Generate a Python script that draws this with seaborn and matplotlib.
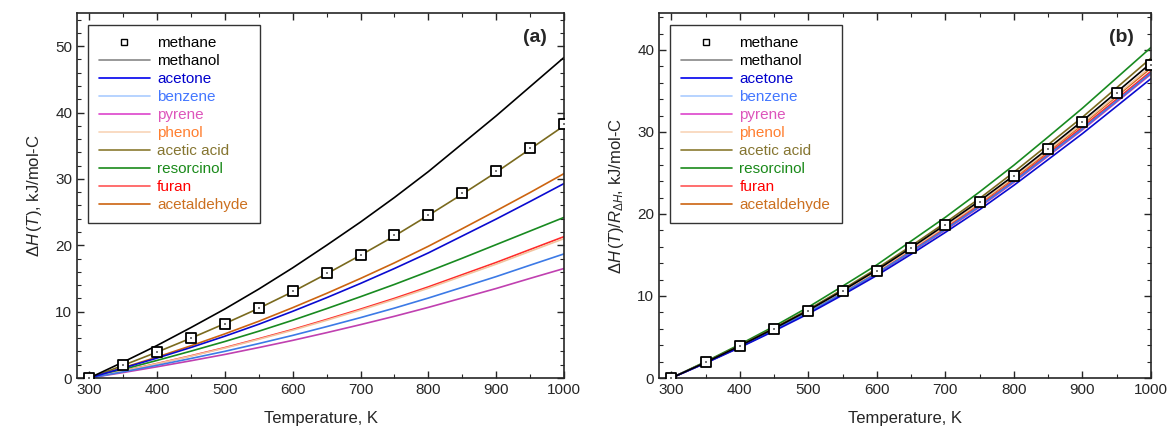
import numpy as np
import pandas as pd
import seaborn as sns
import matplotlib.pyplot as plt
from matplotlib.ticker import MultipleLocator
from matplotlib.lines import Line2D

# Temperature grid, K
temperature = [300, 350, 400, 450, 500, 550, 600, 650, 700, 750, 800, 850, 900, 950, 1000]

# (a) dH(T), kJ/mol-C
a_methane = [0, 1.9, 3.9, 6.0, 8.2, 10.6, 13.1, 15.8, 18.6, 21.5, 24.6, 27.9, 31.2, 34.7, 38.2]
a_methanol = [0, 2.4, 4.9, 7.6, 10.4, 13.4, 16.6, 20.0, 23.5, 27.2, 31.1, 35.3, 39.5, 43.9, 48.3]
a_acetone = [0, 1.5, 3.0, 4.6, 6.3, 8.1, 10.05, 12.1, 14.25, 16.5, 18.85, 21.4, 23.95, 26.6, 29.3]
a_benzene = [0, 0.93, 1.91, 2.94, 4.02, 5.19, 6.42, 7.74, 9.1, 10.53, 12.05, 13.66, 15.28, 17.0, 18.7]
a_pyrene = [0, 0.82, 1.69, 2.6, 3.55, 4.59, 5.67, 6.83, 8.04, 9.3, 10.64, 12.06, 13.49, 15.01, 16.5]
a_phenol = [0, 1.04, 2.15, 3.3, 4.51, 5.83, 7.2, 8.69, 10.23, 11.83, 13.53, 15.35, 17.16, 19.09, 21.0]
a_acetic = [0, 1.9, 3.9, 6.0, 8.2, 10.5, 13.0, 15.7, 18.5, 21.4, 24.5, 27.7, 31.0, 34.5, 38.0]
a_resorcinol = [0, 1.3, 2.65, 4.05, 5.5, 7.05, 8.7, 10.45, 12.25, 14.1, 16.05, 18.05, 20.1, 22.15, 24.2]
a_furan = [0, 1.06, 2.18, 3.35, 4.58, 5.92, 7.31, 8.82, 10.38, 12.0, 13.73, 15.57, 17.41, 19.36, 21.3]
a_acetaldehyde = [0, 1.55, 3.15, 4.85, 6.65, 8.55, 10.6, 12.75, 15.0, 17.35, 19.85, 22.5, 25.2, 27.95, 30.8]

# (b) dH(T)/R_dH, kJ/mol-C
b_methane = [0, 1.9, 3.9, 6.0, 8.2, 10.6, 13.1, 15.8, 18.6, 21.5, 24.6, 27.9, 31.2, 34.7, 38.2]
b_methanol = [0, 1.91, 3.92, 6.03, 8.24, 10.65, 13.17, 15.88, 18.7, 21.6, 24.7, 28.0, 31.35, 34.85, 38.4]
b_acetone = [0, 1.81, 3.72, 5.73, 7.83, 10.12, 12.51, 15.09, 17.76, 20.53, 23.5, 26.64, 29.8, 33.14, 36.5]
b_benzene = [0, 1.85, 3.8, 5.85, 8.0, 10.33, 12.77, 15.4, 18.13, 20.96, 23.98, 27.2, 30.4, 33.8, 37.2]
b_pyrene = [0, 1.84, 3.78, 5.82, 7.95, 10.28, 12.7, 15.33, 18.04, 20.85, 23.86, 27.06, 30.26, 33.66, 37.05]
b_phenol = [0, 1.89, 3.88, 5.97, 8.16, 10.55, 13.03, 15.72, 18.5, 21.4, 24.5, 27.75, 31.05, 34.5, 38.0]
b_acetic = [0, 1.94, 3.98, 6.12, 8.36, 10.8, 13.35, 16.1, 18.95, 21.9, 25.1, 28.45, 31.8, 35.4, 39.0]
b_resorcinol = [0, 2.0, 4.1, 6.3, 8.65, 11.2, 13.8, 16.7, 19.6, 22.7, 25.95, 29.4, 32.9, 36.6, 40.3]
b_furan = [0, 1.86, 3.82, 5.88, 8.04, 10.4, 12.84, 15.48, 18.23, 21.07, 24.1, 27.35, 30.6, 34.0, 37.4]
b_acetaldehyde = [0, 1.88, 3.86, 5.94, 8.12, 10.5, 12.97, 15.64, 18.41, 21.3, 24.35, 27.6, 30.9, 34.35, 37.8]

names = ["methanol", "acetone", "benzene", "pyrene", "phenol",
         "acetic acid", "resorcinol", "furan", "acetaldehyde"]
line_colors = ["#000000", "#0a0ad0", "#3c7ae6", "#c040b0", "#f2c4a0",
               "#7a6a1e", "#188a20", "#ff2a2a", "#cc6410"]
text_colors = ["#000000", "#0000cc", "#4477ff", "#dd55bb", "#ff7f30",
               "#857530", "#1a8a1a", "#ff0000", "#cc7020"]
legend_line_colors = ["#888888", "#0000ee", "#aaccff", "#dd44cc", "#f8d4b8",
                      "#8a7a30", "#1a8a1a", "#ff5555", "#cc6410"]

panels = {
    "a": dict(methane=a_methane,
              lines=[a_methanol, a_acetone, a_benzene, a_pyrene, a_phenol,
                     a_acetic, a_resorcinol, a_furan, a_acetaldehyde],
              ylim=(0, 55), ylabel=r"$\Delta\mathit{H}\,(\mathit{T})$, kJ/mol-C"),
    "b": dict(methane=b_methane,
              lines=[b_methanol, b_acetone, b_benzene, b_pyrene, b_phenol,
                     b_acetic, b_resorcinol, b_furan, b_acetaldehyde],
              ylim=(0, 44.5), ylabel=r"$\Delta\mathit{H}\,(\mathit{T})/R_{\Delta H}$, kJ/mol-C"),
}

sns.set_style("ticks")
plt.rcParams["font.family"] = ["Liberation Sans", "DejaVu Sans"]
plt.rcParams["mathtext.fontset"] = "custom"
plt.rcParams["mathtext.rm"] = "Liberation Sans"
plt.rcParams["mathtext.it"] = "Liberation Sans:italic"
plt.rcParams["mathtext.bf"] = "Liberation Sans:bold"

fig = plt.figure(figsize=(11.7, 4.37), dpi=100)
ax_a = fig.add_axes([77 / 1170, 1 - 378 / 437, 487 / 1170, 365 / 437])
ax_b = fig.add_axes([659 / 1170, 1 - 378 / 437, 492 / 1170, 365 / 437])

for key, ax in [("a", ax_a), ("b", ax_b)]:
    p = panels[key]
    # draw lines in reverse so methanol ends on top
    for vals, col in reversed(list(zip(p["lines"], line_colors))):
        sns.lineplot(x=temperature, y=vals, color=col, lw=1.2, ax=ax, legend=False)
    df_m = pd.DataFrame({"T": temperature, "dH": p["methane"]})
    sns.scatterplot(data=df_m, x="T", y="dH", marker="s", s=55, facecolor="white",
                    edgecolor="black", linewidth=1.3, ax=ax, zorder=5, legend=False)
    sns.scatterplot(data=df_m, x="T", y="dH", marker="s", s=2, color="#777777",
                    linewidth=0, ax=ax, zorder=6, legend=False)

    ax.set_xlim(282, 1000)
    ax.set_ylim(*p["ylim"])
    ax.xaxis.set_major_locator(MultipleLocator(100))
    ax.xaxis.set_minor_locator(MultipleLocator(50))
    ax.yaxis.set_major_locator(MultipleLocator(10))
    ax.yaxis.set_minor_locator(MultipleLocator(2))
    ax.tick_params(which="both", direction="in", top=True, right=True, labelsize=11)
    ax.tick_params(which="major", length=5, width=1)
    ax.tick_params(which="minor", length=3, width=0.8)
    for sp in ax.spines.values():
        sp.set_linewidth(1.2)
    ax.set_xlabel("Temperature, K", fontsize=12, labelpad=10)
    ax.set_ylabel(p["ylabel"], fontsize=12, labelpad=8)
    ax.text(0.965, 0.955, f"({key})", transform=ax.transAxes, ha="right", va="top",
            fontsize=14, fontweight="bold")

    handles = [Line2D([], [], ls="none", marker="s", ms=5, mfc="white", mec="black", mew=1)]
    handles += [Line2D([], [], color=c, lw=1.2) for c in legend_line_colors]
    leg = ax.legend(handles, ["methane"] + names, loc="upper left",
                    bbox_to_anchor=(0.022, 0.968), borderaxespad=0, fontsize=11,
                    handlelength=3.3, handletextpad=0.5, labelspacing=0.26,
                    borderpad=0.75, frameon=True, fancybox=False, edgecolor="black")
    leg.get_frame().set_linewidth(1.0)
    for txt, c in zip(leg.get_texts(), ["#000000"] + text_colors):
        txt.set_color(c)

fig.savefig("out.png", dpi=100)
